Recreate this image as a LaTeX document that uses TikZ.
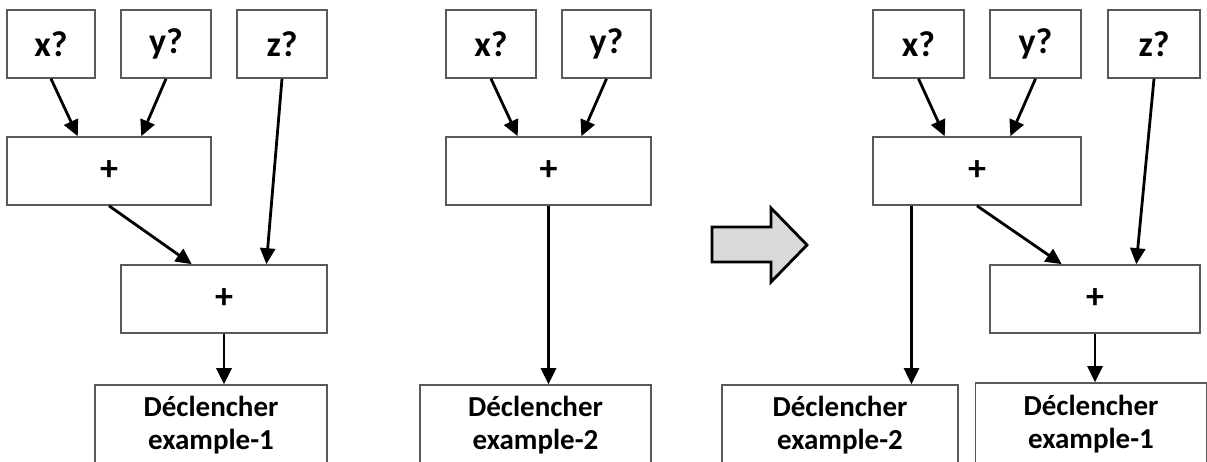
\documentclass[tikz,border=0pt]{standalone}
\usepackage{fontspec}
\setmainfont{Carlito}
\usetikzlibrary{arrows.meta,calc}
\tikzset{
  box/.style={draw=black!65, line width=1.6pt, fill=white, rectangle, inner sep=0pt,
    minimum height=68pt, font=\fontsize{36}{40}\selectfont\bfseries, align=center},
  outbox/.style={box, minimum height=80pt, font=\fontsize{29}{33}\selectfont\bfseries},
  arr/.style={draw=black, line width=2.8pt, -{Triangle[length=16pt,width=15pt]}},
  bigarrow/.style={draw=black, line width=2.8pt, fill=black!15, line join=miter}
}
\begin{document}
\begin{tikzpicture}[x=1pt,y=-1pt]
\useasboundingbox (0,0) rectangle (1207,461);
% ---- left diagram
\node[box, minimum width=88pt] (x1) at (51,44) {x?};
\node[box, minimum width=90pt] (y1) at (166,44) {y?};
\node[box, minimum width=90pt] (z1) at (282,44) {z?};
\node[box, minimum width=204pt] (p1) at (109,171) {+};
\node[box, minimum width=206pt] (q1) at (224,299) {+};
\node[outbox, minimum width=232pt] (d1) at (211,425) {Déclencher\\example-1};
\draw[arr] (x1.south) -- ($(p1.north west)!0.348!(p1.north east)$);
\draw[arr] (y1.south) -- ($(p1.north west)!0.657!(p1.north east)$);
\draw[arr] (z1.south) -- ($(q1.north west)!0.704!(q1.north east)$);
\draw[arr] (p1.south) -- ($(q1.north west)!0.345!(q1.north east)$);
\draw[arr] (q1.south) -- (q1.south |- d1.north);
% ---- middle diagram
\node[box, minimum width=90pt] (x2) at (491,44) {x?};
\node[box, minimum width=89pt] (y2) at (606.5,44) {y?};
\node[box, minimum width=205pt] (p2) at (548.5,171) {+};
\node[outbox, minimum width=231pt] (d2) at (535.5,425) {Déclencher\\example-2};
\draw[arr] (x2.south) -- ($(p2.north west)!0.351!(p2.north east)$);
\draw[arr] (y2.south) -- ($(p2.north west)!0.659!(p2.north east)$);
\draw[arr] (p2.south) -- (p2.south |- d2.north);
% ---- transformation arrow
\draw[bigarrow] (712,227) -- (771,227) -- (771,208) -- (807,245) -- (771,282) -- (771,262) -- (712,262) -- cycle;
% ---- right diagram
\node[box, minimum width=91pt] (x3) at (918.5,44) {x?};
\node[box, minimum width=91pt] (y3) at (1035.5,44) {y?};
\node[box, minimum width=92pt] (z3) at (1154,44) {z?};
\node[box, minimum width=208pt] (p3) at (977,171) {+};
\node[box, minimum width=210pt] (q3) at (1095,299) {+};
\node[outbox, minimum width=236pt] (d3) at (840,425) {Déclencher\\example-2};
\node[outbox, minimum width=231pt, minimum height=82pt] (d4) at (1091,424) {Déclencher\\example-1};
\draw[arr] (x3.south) -- ($(p3.north west)!0.346!(p3.north east)$);
\draw[arr] (y3.south) -- ($(p3.north west)!0.659!(p3.north east)$);
\draw[arr] (z3.south) -- ($(q3.north west)!0.695!(q3.north east)$);
\coordinate (p3l) at ($(p3.south west)!0.1875!(p3.south east)$);
\draw[arr] (p3l) -- (p3l |- d3.north);
\draw[arr] (p3.south) -- ($(q3.north west)!0.343!(q3.north east)$);
\draw[arr] (q3.south) -- (q3.south |- d4.north);
\end{tikzpicture}
\end{document}
